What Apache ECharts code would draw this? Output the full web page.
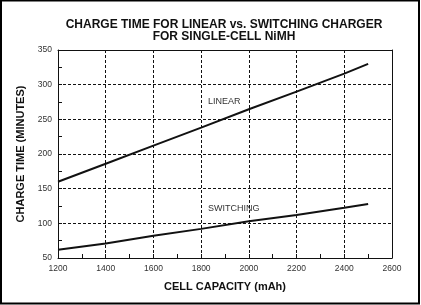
<!DOCTYPE html>
<html>
<head>
<meta charset="utf-8">
<script src="https://cdn.jsdelivr.net/npm/echarts@6/dist/echarts.min.js"></script>
<style>
html,body{margin:0;padding:0;background:#fff;}
#c{width:421px;height:305px;}
</style>
</head>
<body>
<div id="c"></div>
<script>
var titleLines = ['CHARGE TIME FOR LINEAR vs. SWITCHING CHARGER', 'FOR SINGLE-CELL NiMH'];
var xName = 'CELL CAPACITY (mAh)';
var yName = 'CHARGE TIME (MINUTES)';
var capacity = [1200, 1400, 1600, 1800, 2000, 2200, 2400, 2500];
var linear = [160, 186, 212, 238, 264.5, 290, 316, 330];
var switching = [62, 71, 82, 92, 103, 112, 122.5, 128];
var seriesNames = ['LINEAR', 'SWITCHING'];

var font = 'Liberation Sans, Arial, Helvetica, sans-serif';
var chart = echarts.init(document.getElementById('c'), null, {renderer: 'canvas'});

function pairs(xs, ys) { return xs.map(function (x, i) { return [x, ys[i]]; }); }

var axisCommon = {
  axisLine: {show: true, lineStyle: {color: '#111', width: 1}},
  axisTick: {show: true, inside: true, length: 4, lineStyle: {color: '#111'}},
  minorTick: {show: true, splitNumber: 2, length: 4, lineStyle: {color: '#111'}},
  splitLine: {show: true, lineStyle: {color: '#111', width: 1, type: [3, 2]}},
  axisLabel: {color: '#333', fontSize: 8.5, fontFamily: font, margin: 6,
              formatter: function (v) { return String(v); }},
  nameTextStyle: {color: '#111', fontSize: 11, fontWeight: 'bold', fontFamily: font}
};

chart.setOption({
  animation: false,
  backgroundColor: '#fff',
  grid: {left: 58, right: 29, top: 50, bottom: 47, containLabel: false},
  xAxis: [
    Object.assign({}, axisCommon, {
      type: 'value', min: 1200, max: 2600, interval: 200,
      name: xName, nameLocation: 'middle', nameGap: 23
    }),
    {type: 'value', position: 'top', min: 1200, max: 2600,
     axisLine: {show: true, onZero: false, lineStyle: {color: '#111'}},
     axisTick: {show: false}, axisLabel: {show: false}, splitLine: {show: false}}
  ],
  yAxis: [
    Object.assign({}, axisCommon, {
      type: 'value', min: 50, max: 350, interval: 50,
      name: yName, nameLocation: 'middle', nameGap: 30, nameRotate: 90
    }),
    {type: 'value', position: 'right', min: 50, max: 350,
     axisLine: {show: true, onZero: false, lineStyle: {color: '#111'}},
     axisTick: {show: false}, axisLabel: {show: false}, splitLine: {show: false}}
  ],
  series: [
    {name: seriesNames[0], type: 'line', data: pairs(capacity, linear), showSymbol: false,
     lineStyle: {color: '#111', width: 2}},
    {name: seriesNames[1], type: 'line', data: pairs(capacity, switching), showSymbol: false,
     lineStyle: {color: '#111', width: 2}}
  ],
  graphic: [
    {type: 'text', x: 224, y: 25, style: {text: titleLines[0], fill: '#111', font: 'bold 12px ' + font, align: 'center', verticalAlign: 'middle'}},
    {type: 'text', x: 224, y: 37, style: {text: titleLines[1], fill: '#111', font: 'bold 12px ' + font, align: 'center', verticalAlign: 'middle'}},
    {type: 'text', left: 208, top: 97, style: {text: seriesNames[0], fill: '#333', font: '9px ' + font}},
    {type: 'text', left: 208, top: 204, style: {text: seriesNames[1], fill: '#333', font: '9px ' + font}},
    {type: 'rect', shape: {x: 1, y: 0.5, width: 418, height: 303}, style: {fill: 'none', stroke: '#000', lineWidth: 2}, silent: true}
  ]
});
</script>
</body>
</html>
